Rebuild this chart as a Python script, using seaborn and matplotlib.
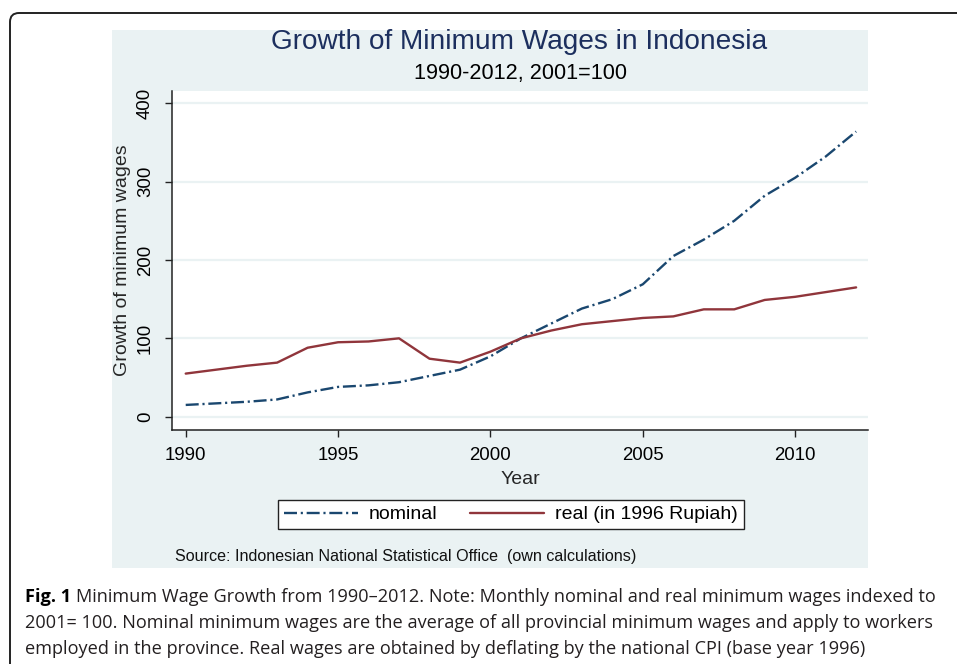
import numpy as np
import pandas as pd
import matplotlib
matplotlib.use("Agg")
import matplotlib.pyplot as plt
import seaborn as sns
from matplotlib.patches import FancyBboxPatch, Rectangle
from matplotlib.lines import Line2D

# Data (2001 = 100)
years = list(range(1990, 2013))
nominal = [15, 17, 19, 22, 31, 38, 40, 44, 52, 60, 77, 100, 119, 138, 150,
           169, 205, 226, 250, 282, 305, 332, 364]
real = [55, 60, 65, 69, 88, 95, 96, 100, 74, 69, 83, 100, 110, 118, 122,
        126, 128, 137, 137, 149, 153, 159, 165]
y_ticks = [0, 100, 200, 300, 400]
x_ticks = [1990, 1995, 2000, 2005, 2010]
series_labels = ["nominal", "real (in 1996 Rupiah)"]

sns.set_theme(style="white")
plt.rcParams["font.family"] = ["Liberation Sans", "DejaVu Sans"]

W, H = 957, 664
fig = plt.figure(figsize=(W / 100, H / 100), dpi=100)
fig.patch.set_facecolor("white")

# outer rounded frame (page figure border) and Stata-style light blue panel
frame = FancyBboxPatch((10 / 100, -20 / 100), 1000 / 100, (H - 13 + 20) / 100,
                       boxstyle="round,pad=0,rounding_size=0.09",
                       transform=fig.dpi_scale_trans, fill=False,
                       edgecolor="#222222", linewidth=1.4, zorder=-2)
fig.patches.append(frame)
panel = Rectangle((112 / 100, (H - 568) / 100), 756 / 100, 538 / 100,
                  transform=fig.dpi_scale_trans, facecolor="#eaf2f3",
                  edgecolor="none", zorder=-1)
fig.patches.append(panel)

ax = fig.add_axes([172 / W, (H - 430) / H, 696 / W, 339 / H])
ax.set_zorder(1)
ax.set_facecolor("white")

navy = "#1a476f"
maroon = "#90353b"
dash_dot = (0, (5.5, 1.6, 0.9, 1.6))
df = pd.DataFrame({"Year": years, "nominal": nominal, "real": real})
sns.lineplot(data=df, x="Year", y="nominal", ax=ax, color=navy, linewidth=1.7,
             linestyle=dash_dot)
sns.lineplot(data=df, x="Year", y="real", ax=ax, color=maroon, linewidth=1.7)

ax.set_xlim(1989.55, 2012.39)
ax.set_ylim(-17, 415.7)
ax.set_xticks(x_ticks)
ax.set_yticks(y_ticks)
ax.set_yticklabels([str(v) for v in y_ticks], rotation=90, va="center")
ax.yaxis.grid(True, color="#eaf2f3", linewidth=1.6)
ax.xaxis.grid(False)
ax.set_axisbelow(True)
for s in ["top", "right"]:
    ax.spines[s].set_visible(False)
for s in ["left", "bottom"]:
    ax.spines[s].set_color("#222222")
    ax.spines[s].set_linewidth(1.1)
ax.tick_params(axis="both", which="major", length=5, width=1, color="#222222",
               labelsize=13.4, labelcolor="black", direction="out")
ax.tick_params(axis="y", pad=8)
ax.tick_params(axis="x", pad=7)
ax.set_xlabel("Year", fontsize=14, labelpad=5)
ax.set_ylabel("Growth of minimum wages", fontsize=14, labelpad=4)
ax.tick_params(left=True, bottom=True)

# titles
fig.text(519 / W, 1 - 42 / H, "Growth of Minimum Wages in Indonesia",
         ha="center", va="center", fontsize=20.2, color="#1c2f5e")
fig.text(520 / W, 1 - 74 / H, "1990-2012, 2001=100", ha="center",
         va="center", fontsize=15.6, color="black")

# legend
handles = [Line2D([], [], color=navy, linewidth=1.7, linestyle=dash_dot),
           Line2D([], [], color=maroon, linewidth=1.7)]
leg = fig.legend(handles, series_labels, loc="center",
                 bbox_to_anchor=(511 / W, 1 - 514.5 / H), ncol=2,
                 fontsize=14, frameon=True, fancybox=False, framealpha=1,
                 handlelength=3.8, handletextpad=0.55, columnspacing=1.7,
                 borderpad=0.3, borderaxespad=0)
leg.get_frame().set_edgecolor("#222222")
leg.get_frame().set_linewidth(1.0)
leg.get_frame().set_facecolor("white")
for t in leg.get_texts():
    t.set_color("black")

fig.text(175 / W, 1 - 557 / H,
         "Source: Indonesian National Statistical Office  (own calculations)",
         ha="left", va="center", fontsize=11.6, color="#111111")

# caption
cap_font = ["Open Sans", "DejaVu Sans"]
cap_size = 13.05
cap_color = "#231f20"
fig_lbl = fig.text(25 / W, 1 - 597 / H, "Fig. 1", ha="left", va="center",
                   fontsize=cap_size, fontweight="bold", family=cap_font,
                   color="black")
fig.canvas.draw()
bb = fig_lbl.get_window_extent()
fig.text((bb.x1 + 5) / W, 1 - 597 / H,
         "Minimum Wage Growth from 1990\u20132012. Note: Monthly nominal and real minimum wages indexed to",
         ha="left", va="center", fontsize=cap_size, family=cap_font,
         color=cap_color)
fig.text(25 / W, 1 - 623 / H,
         "2001= 100. Nominal minimum wages are the average of all provincial minimum wages and apply to workers",
         ha="left", va="center", fontsize=cap_size, family=cap_font,
         color=cap_color)
fig.text(25 / W, 1 - 649 / H,
         "employed in the province. Real wages are obtained by deflating by the national CPI (base year 1996)",
         ha="left", va="center", fontsize=cap_size, family=cap_font,
         color=cap_color)

fig.savefig("out.png", dpi=100, facecolor="white")
